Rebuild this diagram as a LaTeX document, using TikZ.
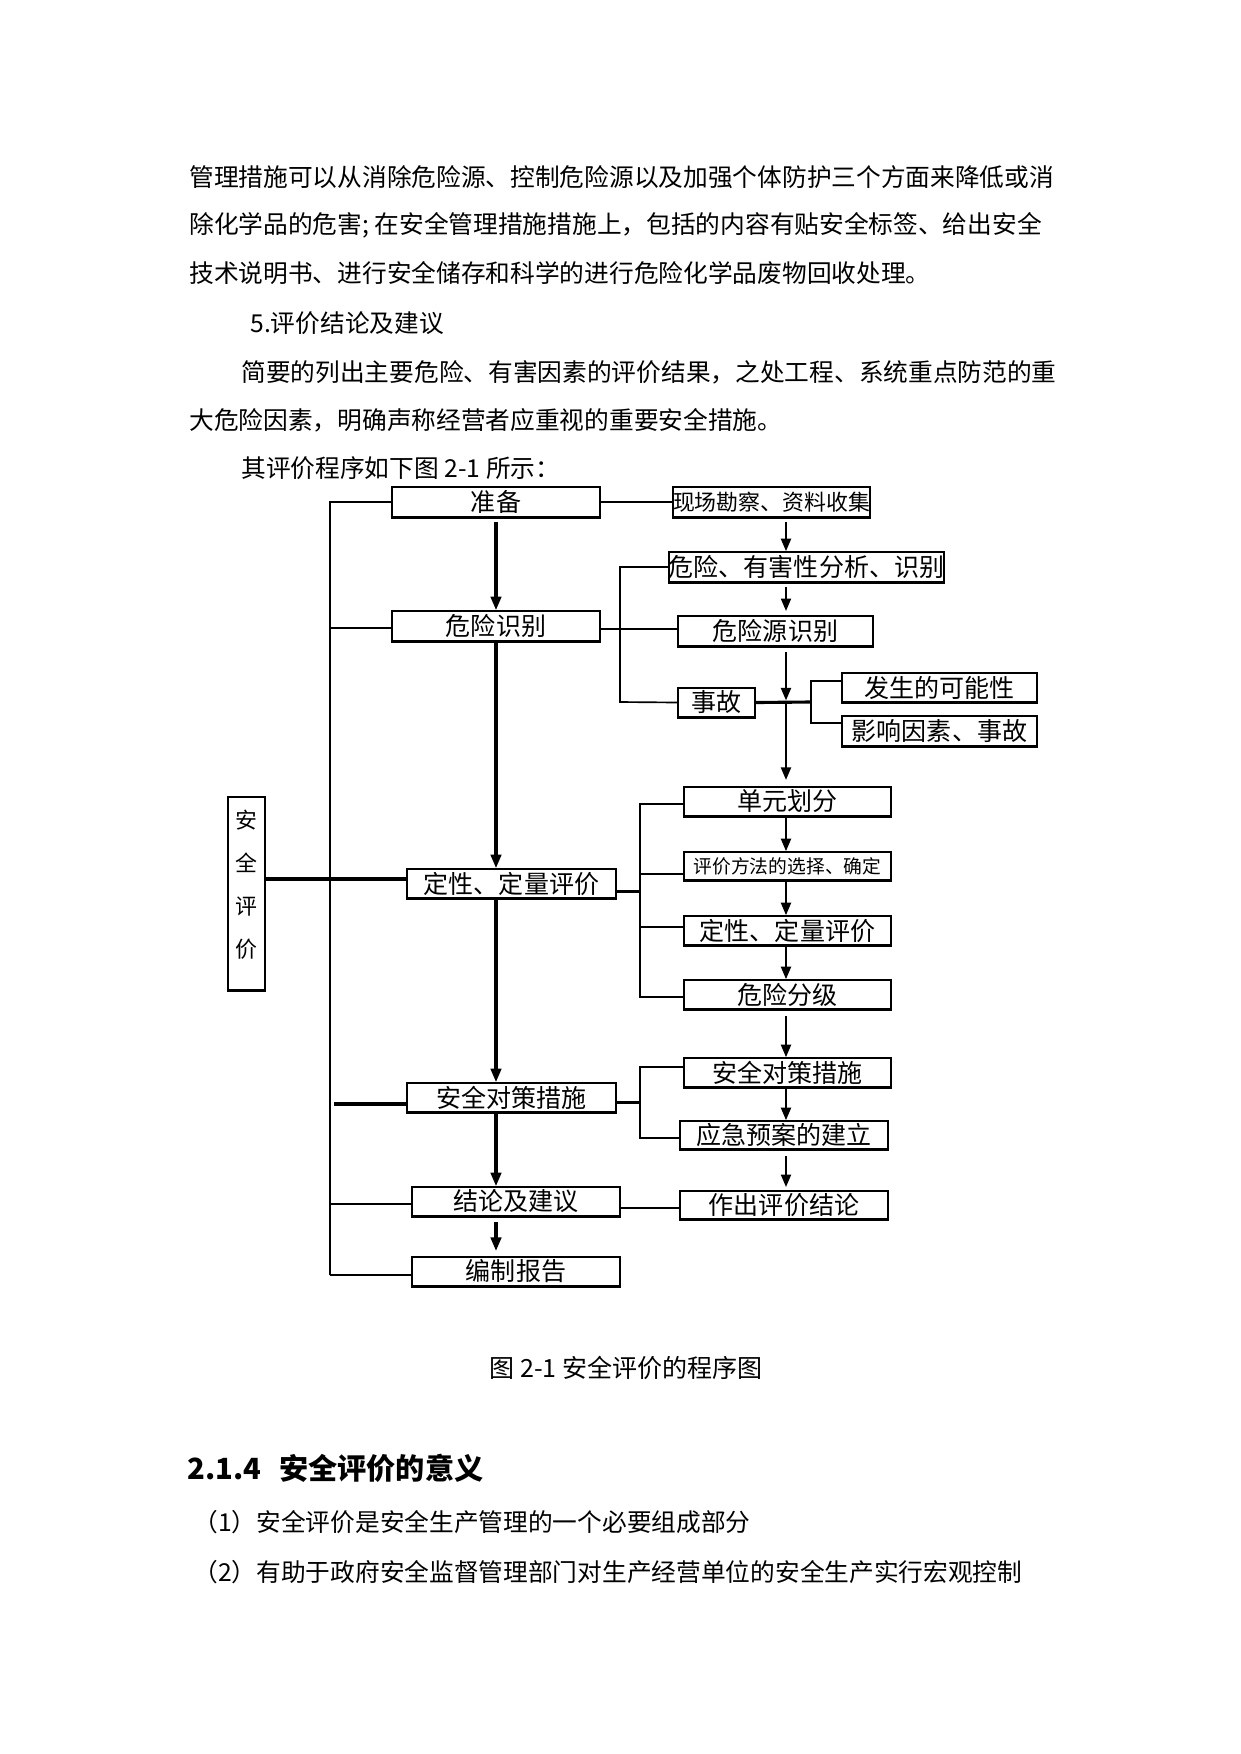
\documentclass[tikz,border=0pt]{standalone}
\usepackage{fontspec}
\setmainfont{Noto Sans CJK SC}
\usetikzlibrary{arrows.meta}
\begin{document}
\begin{tikzpicture}[x=0.47968pt,y=-0.47968pt,
  wh/.style 2 args={minimum width=#1*0.47968pt, minimum height=#2*0.47968pt},
  box/.style={draw, line width=0.8pt, inner sep=0pt, font=\fontsize{12}{14}\selectfont},
  conn/.style={line width=0.8pt},
  thk/.style={line width=1.5pt},
  arr/.style={line width=1.5pt, -{Triangle[length=6.5pt,width=5pt]}},
  arrs/.style={line width=1pt, -{Triangle[length=6pt,width=4.8pt]}},
  para/.style={anchor=west, inner sep=0pt, font=\fontsize{11.85}{14}\selectfont}]
\fill[white] (0,0) rectangle (1241,1754);
\useasboundingbox (0,0) rectangle (1241,1754);

% paragraph text
\node[para] (p1) at (189,177) {管理措施可以从消除危险源、控制危险源以及加强个体防护三个方面来降低或消};
\node[para] (p2) at (189,225) {除化学品的危害; 在安全管理措施措施上，包括的内容有贴安全标签、给出安全};
\node[para] (p3) at (189,273) {技术说明书、进行安全储存和科学的进行危险化学品废物回收处理。};
\node[para] (p4) at (250,323) {5.评价结论及建议};
\node[para] (p5) at (241,372) {简要的列出主要危险、有害因素的评价结果，之处工程、系统重点防范的重};
\node[para] (p6) at (189,420) {大危险因素，明确声称经营者应重视的重要安全措施。};
\node[para] (p7) at (241,468) {其评价程序如下图 2-1 所示：};

% left column
\node[box, wh={208}{30}] (A) at (496,502) {准备};
\node[box, wh={208}{30}] (B) at (496,626) {危险识别};
\node[box, wh={209}{29}] (C) at (511.5,883.5) {定性、定量评价};
\node[box, wh={209}{29}] (D) at (511.5,1097.5) {安全对策措施};
\node[box, wh={208}{29}] (E) at (516,1201.5) {结论及建议};
\node[box, wh={208}{29}] (F) at (516,1271.5) {编制报告};

% right column
\node[box, wh={195}{30}, font=\fontsize{10.5}{12}\selectfont] (G) at (771.5,502) {现场勘察、资料收集};
\node[box, wh={261}{30}] (H) at (806.5,567) {危险、有害性分析、识别};
\node[box, wh={195}{30}] (I) at (775.5,631) {危险源识别};
\node[box, wh={77}{29}] (J) at (716.5,702.5) {事故};
\node[box, wh={195}{29}] (K) at (939.5,687.5) {发生的可能性};
\node[box, wh={195}{30}] (L) at (939.5,731) {影响因素、事故};
\node[box, wh={207}{29}] (M) at (787.5,801.5) {单元划分};
\node[box, wh={207}{28}, font=\fontsize{9}{11}\selectfont] (N) at (787.5,866) {评价方法的选择、确定};
\node[box, wh={207}{29}] (O) at (787.5,930.5) {定性、定量评价};
\node[box, wh={207}{29}] (P) at (787.5,994.5) {危险分级};
\node[box, wh={207}{29}] (Q) at (787.5,1072.5) {安全对策措施};
\node[box, wh={208}{28}] (R) at (784,1135) {应急预案的建立};
\node[box, wh={208}{28}] (S) at (784,1205) {作出评价结论};

% vertical box
\node[box, wh={37}{193}] (T) at (246.5,893.5) {};
\node[align=center, inner sep=0pt, font=\fontsize{10.5}{20.6}\selectfont] (Tt) at (246.5,885) {安\\全\\评\\价};

% thicker bottom edges
\foreach \n in {A,B,C,D,E,F,G,H,I,J,K,L,M,N,O,P,Q,R,S,T}
  \draw[line width=1.4pt] (\n.south west) -- (\n.south east);

\coordinate (mx) at (496,0);
\coordinate (rx) at (786,0);

% main arrows
\draw[arr, shorten <=2pt] (A.south) -- (B.north);
\draw[arr] (B.south) -- (B.south |- C.north);
\draw[arr] (mx |- C.south) -- (mx |- D.north);
\draw[arr] (mx |- D.south) -- (mx |- E.north);
\draw[arr, shorten <=2.5pt, shorten >=2.5pt] (mx |- E.south) -- (mx |- F.north);

% right arrows
\draw[arrs, shorten <=2pt] (rx |- G.south) -- (rx |- H.north);
\draw[arrs, shorten <=2pt, shorten >=2pt] (rx |- H.south) -- (rx |- I.north);
\draw[arrs, shorten <=2.5pt, shorten >=1pt] (rx |- I.south) -- (rx |- J);
\draw[arrs, shorten >=3pt] (rx |- J) -- (rx |- M.north);
\draw[arrs] (rx |- M.south) -- (rx |- N.north);
\draw[arrs] (rx |- N.south) -- (rx |- O.north);
\draw[arrs] (rx |- O.south) -- (rx |- P.north);
\draw[arrs, shorten <=3pt] (rx |- P.south) -- (rx |- Q.north);
\draw[arrs] (rx |- Q.south) -- (rx |- R.north);
\draw[arrs, shorten <=3pt, shorten >=1.5pt] (rx |- R.south) -- (rx |- S.north);

% bus and links
\coordinate (busT) at (330,502);
\coordinate (busB) at (330,1275);
\draw[line width=1pt] (busB) -- (busT) -- (A.west);
\coordinate (bB) at (330,628);
\draw[conn] (bB) -- (bB -| B.west);
\coordinate (tC) at (265,879);
\draw[thk] (tC -| T.east) -- (tC -| C.west);
\coordinate (bD) at (334,1104);
\draw[thk] (bD) -- (bD -| D.west);
\coordinate (bE) at (330,1204);
\draw[conn] (bE) -- (bE -| E.west);
\draw[line width=1.1pt] (busB) -- (busB -| F.west);

% right side links
\draw[conn] (A.east) -- (G.west);
\coordinate (bI) at (600,629);
\draw[conn] (bI -| B.east) -- (bI -| I.west);
\coordinate (hb) at (620,702);
\draw[conn] (H.west) -| (hb) -- (J.west);
\coordinate (jk) at (811,702);
\draw[thk] (J.east) -- (jk);
\coordinate (kk) at (811,681);
\coordinate (ll) at (811,723);
\draw[conn] (kk -| K.west) -- (kk) -- (ll) -- (ll -| L.west);

\coordinate (cb) at (640,891.7);
\draw[thk] (C.east |- cb) -- (cb);
\coordinate (cm) at (640,804);
\coordinate (cn) at (640,874);
\coordinate (co) at (640,927);
\coordinate (cp) at (640,997);
\draw[conn] (cm -| M.west) -- (cm) -- (cp) -- (cp -| P.west);
\draw[conn] (cn) -- (cn -| N.west);
\draw[conn] (co) -- (co -| O.west);

\coordinate (db) at (640,1102.7);
\draw[thk] (D.east |- db) -- (db);
\coordinate (cq) at (640,1067);
\coordinate (cr) at (640,1138);
\draw[line width=1.1pt] (cq -| Q.west) -- (cq) -- (cr) -- (cr -| R.west);

\coordinate (es) at (620,1208);
\draw[conn] (es -| E.east) -- (es -| S.west);

% caption and following text
\node[inner sep=0pt, font=\fontsize{12}{14}\selectfont] (cap) at (626,1368) {图 2-1 安全评价的程序图};
\node[para, font=\fontsize{14}{17}\selectfont\bfseries] (h) at (187,1468) {\makebox[44pt][l]{2.1.4}安全评价的意义};
\node[para] (i1) at (193,1522) {（1）安全评价是安全生产管理的一个必要组成部分};
\node[para] (i2) at (193,1572) {（2）有助于政府安全监督管理部门对生产经营单位的安全生产实行宏观控制};
\end{tikzpicture}
\end{document}
